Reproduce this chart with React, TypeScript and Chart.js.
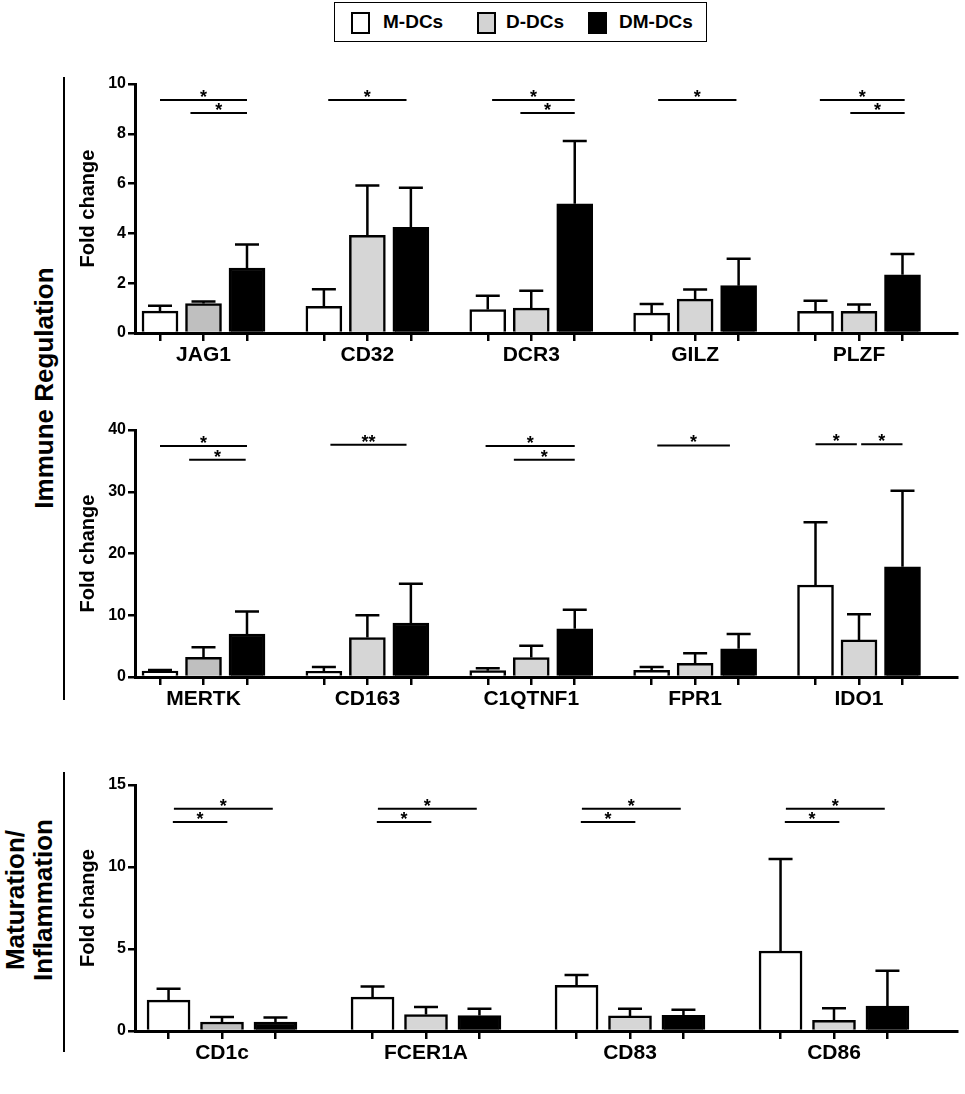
import React, { useEffect, useRef } from 'react';
import { Chart, registerables } from 'chart.js';

Chart.register(...registerables);

const FONT = "'Liberation Sans', Arial, Helvetica, sans-serif";
Chart.defaults.font.family = FONT;

const seriesNames = ['M-DCs', 'D-DCs', 'DM-DCs'];

// Immune regulation, first row (fold change, mean and SD)
const topGenes = ['JAG1', 'CD32', 'DCR3', 'GILZ', 'PLZF'];
const topM = [0.88, 1.07, 0.94, 0.8, 0.87];
const topMsd = [0.21, 0.69, 0.56, 0.36, 0.43];
const topD = [1.18, 3.92, 1.0, 1.36, 0.87];
const topDsd = [0.09, 2.0, 0.7, 0.39, 0.27];
const topDM = [2.61, 4.24, 5.19, 1.9, 2.34];
const topDMsd = [0.94, 1.59, 2.52, 1.08, 0.83];
const topTicks = [0, 10, 2];

// Immune regulation, second row
const midGenes = ['MERTK', 'CD163', 'C1QTNF1', 'FPR1', 'IDO1'];
const midM = [0.95, 0.92, 1.03, 1.1, 14.9];
const midMsd = [0.2, 0.68, 0.37, 0.5, 10.15];
const midD = [3.19, 6.4, 3.15, 2.2, 6.0];
const midDsd = [1.61, 3.6, 1.9, 1.66, 4.15];
const midDM = [6.97, 8.75, 7.8, 4.57, 17.86];
const midDMsd = [3.63, 6.35, 3.1, 2.39, 12.31];
const midTicks = [0, 40, 10];

// Maturation / inflammation
const botGenes = ['CD1c', 'FCER1A', 'CD83', 'CD86'];
const botM = [1.88, 2.07, 2.78, 4.88];
const botMsd = [0.69, 0.65, 0.63, 5.61];
const botD = [0.55, 1.0, 0.92, 0.65];
const botDsd = [0.31, 0.47, 0.43, 0.73];
const botDM = [0.55, 0.94, 0.96, 1.52];
const botDMsd = [0.27, 0.41, 0.33, 2.16];
const botTicks = [0, 15, 5];

// significance bars: [gene, from bar, to bar, height, label]  (bar 0 = M, 1 = D, 2 = DM)
type Sig = [number, number, number, number, string];
const topSig: Sig[] = [
  [0, 0, 2, 9.36, '*'], [0, 0.7, 2, 8.84, '*'],
  [1, 0.1, 1.9, 9.36, '*'],
  [2, 0.1, 2, 9.36, '*'], [2, 0.75, 2, 8.84, '*'],
  [3, 0.15, 1.95, 9.36, '*'],
  [4, 0.1, 2.05, 9.36, '*'], [4, 0.8, 2.05, 8.84, '*'],
];
const midSig: Sig[] = [
  [0, 0, 2, 37.4, '*'], [0, 0.67, 1.97, 35.2, '*'],
  [1, 0.15, 1.9, 37.6, '**'],
  [2, -0.05, 2, 37.4, '*'], [2, 0.6, 2, 35.2, '*'],
  [3, 0.13, 1.8, 37.5, '*'],
  [4, 0, 0.95, 37.7, '*'], [4, 1.05, 2, 37.7, '*'],
];
const botSig: Sig[] = [
  [0, 0.1, 1.95, 13.55, '*'], [0, 0.08, 1.1, 12.75, '*'],
  [1, 0.1, 1.95, 13.55, '*'], [1, 0.08, 1.1, 12.75, '*'],
  [2, 0.1, 1.95, 13.55, '*'], [2, 0.08, 1.1, 12.75, '*'],
  [3, 0.1, 1.95, 13.55, '*'], [3, 0.08, 1.1, 12.75, '*'],
];

interface PanelProps {
  genes: string[];
  means: number[][];
  sds: number[][];
  sig: Sig[];
  yTicks: number[];
  top: number;
  height: number;
  padTop: number;
  padBottom: number;
  xMin: number;
  xMax: number;
  spread: number;
  barWidth: number;
}

const Panel: React.FC<PanelProps> = (p) => {
  const canvasRef = useRef<HTMLCanvasElement>(null);

  useEffect(() => {
    if (!canvasRef.current) return;
    const tickVals: number[] = [];
    p.genes.forEach((_, i) => [0, 1, 2].forEach((k) => tickVals.push(i + (k - 1) * p.spread)));

    const errorBars = {
      id: 'errorBars',
      afterDatasetsDraw(chart: any) {
        const { ctx } = chart;
        const y = chart.scales.y;
        ctx.save();
        ctx.strokeStyle = '#000';
        ctx.lineWidth = 2.5;
        chart.data.datasets.forEach((ds: any, k: number) => {
          chart.getDatasetMeta(k).data.forEach((bar: any, i: number) => {
            const top = y.getPixelForValue(ds.data[i].y + p.sds[k][i]);
            ctx.beginPath();
            ctx.moveTo(bar.x, bar.y);
            ctx.lineTo(bar.x, top);
            ctx.moveTo(bar.x - 12, top);
            ctx.lineTo(bar.x + 12, top);
            ctx.stroke();
          });
        });
        ctx.restore();
      },
    };

    const sigBars = {
      id: 'sigBars',
      afterDatasetsDraw(chart: any) {
        const { ctx } = chart;
        const { x, y } = chart.scales;
        ctx.save();
        ctx.strokeStyle = '#000';
        ctx.fillStyle = '#000';
        ctx.lineWidth = 2;
        ctx.font = `bold 18px ${FONT}`;
        ctx.textAlign = 'center';
        ctx.textBaseline = 'alphabetic';
        p.sig.forEach(([g, a, b, lvl, label]) => {
          const x1 = x.getPixelForValue(g + (a - 1) * p.spread);
          const x2 = x.getPixelForValue(g + (b - 1) * p.spread);
          const yy = y.getPixelForValue(lvl);
          ctx.beginPath();
          ctx.moveTo(x1, yy);
          ctx.lineTo(x2, yy);
          ctx.stroke();
          ctx.fillText(label, (x1 + x2) / 2, yy + 3);
        });
        ctx.restore();
      },
    };

    const fills = ['#ffffff', null, '#000000'];
    const chart = new Chart(canvasRef.current, {
      type: 'bar',
      data: {
        datasets: seriesNames.map((name, k) => ({
          label: name,
          data: p.genes.map((_, i) => ({ x: i + (k - 1) * p.spread, y: p.means[k][i] })),
          backgroundColor: p.genes.map((_, i) => fills[k] ?? (i === 0 ? '#bfbfbf' : '#d6d6d6')),
          borderColor: '#000',
          borderWidth: 2.5,
          barThickness: p.barWidth,
          grouped: false,
        })) as any,
      },
      options: {
        animation: false,
        responsive: true,
        maintainAspectRatio: false,
        events: [],
        layout: { padding: { left: 0, right: 8, top: p.padTop, bottom: p.padBottom } },
        plugins: { legend: { display: false }, tooltip: { enabled: false } },
        scales: {
          x: {
            type: 'linear',
            min: p.xMin,
            max: p.xMax,
            offset: false,
            afterBuildTicks: (s: any) => {
              s.ticks = tickVals.map((v) => ({ value: v }));
            },
            afterFit: (s: any) => {
              s.height = 40;
            },
            ticks: {
              autoSkip: false,
              minRotation: 0,
              maxRotation: 0,
              padding: 2,
              color: '#000',
              font: { size: 21, weight: 'bold' },
              callback: (_v: any, idx: number) => (idx % 3 === 1 ? p.genes[Math.floor(idx / 3)] : ''),
            },
            grid: { display: true, offset: false, drawOnChartArea: false, drawTicks: true, tickLength: 8, color: '#000', lineWidth: 2.5 },
            border: { display: true, color: '#000', width: 3 },
          },
          y: {
            min: p.yTicks[0],
            max: p.yTicks[1],
            afterFit: (s: any) => {
              s.width = 135;
            },
            ticks: { stepSize: p.yTicks[2], padding: 2, color: '#000', font: { size: 16, weight: 'bold' } },
            grid: { drawOnChartArea: false, drawTicks: true, tickLength: 7, color: '#000', lineWidth: 2.5 },
            border: { display: true, color: '#000', width: 3 },
            title: {
              display: true,
              text: 'Fold change',
              color: '#000',
              font: { size: 20, weight: 'bold' },
              padding: { top: 76, bottom: 0 },
            },
          },
        },
      } as any,
      plugins: [errorBars, sigBars],
    });

    return () => chart.destroy();
  }, [p]);

  return (
    <div style={{ position: 'absolute', left: 0, top: p.top, width: 965, height: p.height }}>
      <canvas ref={canvasRef} />
    </div>
  );
};

const legendFills = ['#ffffff', '#d3d3d3', '#000000'];
const legendPos = [[16, 48], [142, 171], [253, 284]];

const App: React.FC = () => {
  const topProps = {
    genes: topGenes, means: [topM, topD, topDM], sds: [topMsd, topDsd, topDMsd], sig: topSig, yTicks: topTicks,
    top: 60, height: 320, padTop: 24, padBottom: 7, xMin: -0.418, xMax: 4.598, spread: 0.2654, barWidth: 36,
  };
  const midProps = {
    genes: midGenes, means: [midM, midD, midDM], sds: [midMsd, midDsd, midDMsd], sig: midSig, yTicks: midTicks,
    top: 400, height: 320, padTop: 30, padBottom: 3, xMin: -0.418, xMax: 4.598, spread: 0.2654, barWidth: 36,
  };
  const botProps = {
    genes: botGenes, means: [botM, botD, botDM], sds: [botMsd, botDsd, botDMsd], sig: botSig, yTicks: botTicks,
    top: 760, height: 334, padTop: 25, padBottom: 23, xMin: -0.4265, xMax: 3.603, spread: 0.262, barWidth: 43,
  };

  return (
    <div style={{ position: 'absolute', left: 0, top: 0, width: 965, height: 1094, background: '#fff', fontFamily: FONT, color: '#000' }}>
      <div style={{ position: 'absolute', left: 334, top: 2, width: 371, height: 38, border: '1.5px solid #000', boxSizing: 'content-box' }}>
        {seriesNames.map((name, k) => (
          <React.Fragment key={name}>
            <div style={{ position: 'absolute', left: legendPos[k][0], top: 9, width: 15, height: 18, border: '2.5px solid #000', background: legendFills[k] }} />
            <div style={{ position: 'absolute', left: legendPos[k][1], top: 7, fontSize: 19, fontWeight: 'bold', lineHeight: '24px', whiteSpace: 'nowrap' }}>{name}</div>
          </React.Fragment>
        ))}
      </div>

      <div style={{ position: 'absolute', left: 63, top: 77, width: 1.5, height: 623, background: '#000' }} />
      <div style={{ position: 'absolute', left: 44, top: 388, transform: 'translate(-50%, -50%) rotate(-90deg)', fontSize: 26, fontWeight: 'bold', whiteSpace: 'nowrap' }}>
        Immune Regulation
      </div>

      <div style={{ position: 'absolute', left: 63, top: 772, width: 1.5, height: 280, background: '#000' }} />
      <div style={{ position: 'absolute', left: 29, top: 900, transform: 'translate(-50%, -50%) rotate(-90deg)', fontSize: 26, fontWeight: 'bold', lineHeight: '28px', textAlign: 'center', whiteSpace: 'nowrap' }}>
        Maturation/
        <br />
        Inflammation
      </div>

      <Panel {...topProps} />
      <Panel {...midProps} />
      <Panel {...botProps} />
    </div>
  );
};

export default App;
